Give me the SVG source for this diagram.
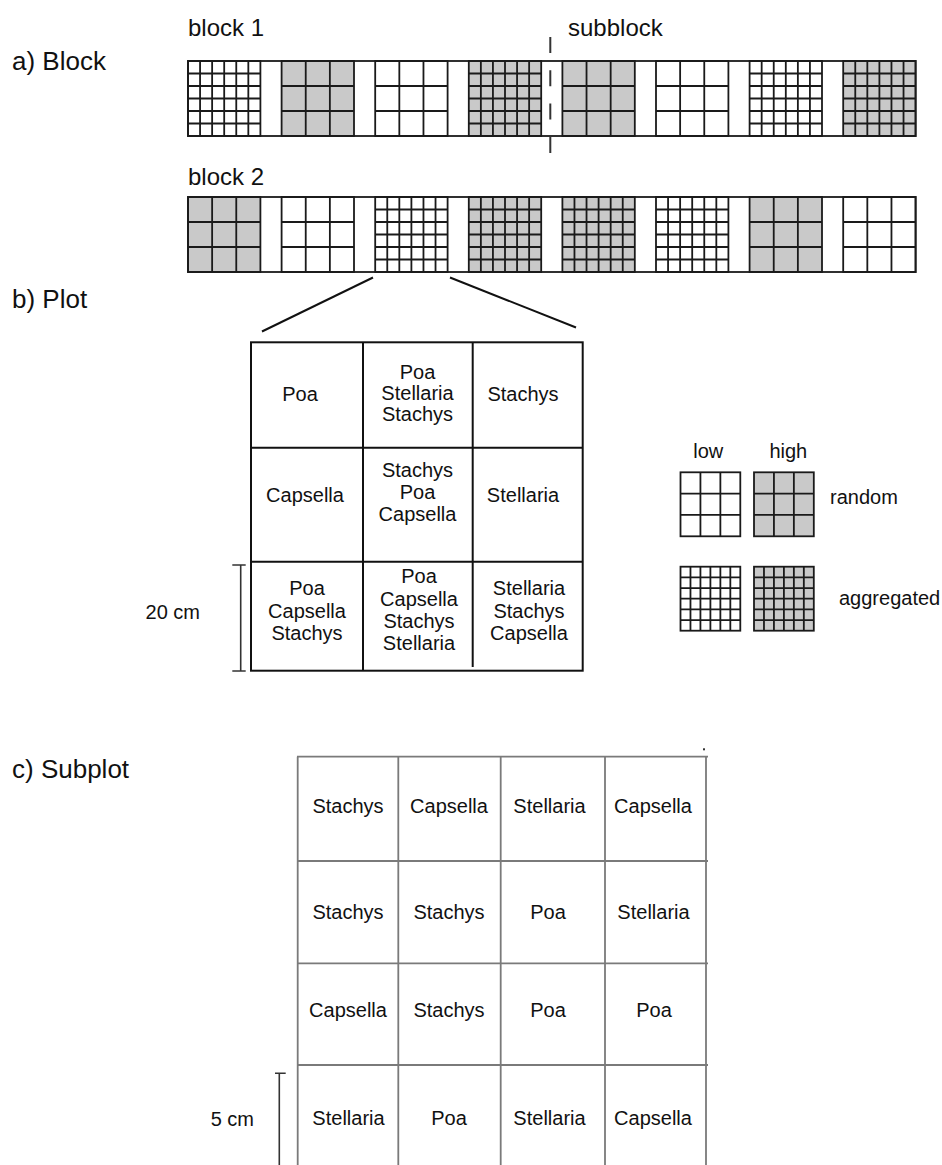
<svg xmlns="http://www.w3.org/2000/svg" xmlns:xlink="http://www.w3.org/1999/xlink" width="942" height="1165" viewBox="0 0 942 1165">
<style>
text{font-family:"Liberation Sans",Arial,sans-serif;fill:#111}
.sec{font-size:26px}
.blk{font-size:24px}
.t{font-size:20px;text-anchor:middle}
.g{stroke:#1a1a1a;stroke-width:1.8;fill:none}
.w{fill:#fff}
.h{fill:#c9c9c9}
.pl{stroke:#111;stroke-width:2;fill:none}
.sp{stroke:#7a7a7a;stroke-width:1.8;fill:none}
.sc{stroke:#333;stroke-width:1.6;fill:none}
</style>
<defs>
<path id="rp" d="M24.13 0V75M48.27 0V75M0 25H72.4M0 50H72.4"/>
<path id="ap" d="M12.07 0V75M24.13 0V75M36.2 0V75M48.27 0V75M60.33 0V75M0 12.5H72.4M0 25H72.4M0 37.5H72.4M0 50H72.4M0 62.5H72.4"/>
<g id="rl"><rect width="72.4" height="75" class="w g"/><use xlink:href="#rp" class="g"/></g>
<g id="rh"><rect width="72.4" height="75" class="h g"/><use xlink:href="#rp" class="g"/></g>
<g id="al"><rect width="72.4" height="75" class="w g"/><use xlink:href="#ap" class="g"/></g>
<g id="ah"><rect width="72.4" height="75" class="h g"/><use xlink:href="#ap" class="g"/></g>
<path id="lrp" d="M19.93 0V64M39.87 0V64M0 21.33H59.8M0 42.67H59.8"/>
<path id="lap" d="M9.97 0V64M19.93 0V64M29.9 0V64M39.87 0V64M49.83 0V64M0 10.67H59.8M0 21.33H59.8M0 32H59.8M0 42.67H59.8M0 53.33H59.8"/>
</defs>

<g id="labels">
<text class="sec" x="12" y="70">a) Block</text>
<text class="sec" x="12" y="308">b) Plot</text>
<text class="sec" x="12" y="778">c) Subplot</text>
</g>

<g id="block1">
<text class="blk" x="188" y="36">block 1</text>
<text class="blk" x="568" y="36">subblock</text>
<use xlink:href="#al" x="188" y="61"/>
<use xlink:href="#rh" x="281.6" y="61"/>
<use xlink:href="#rl" x="375.2" y="61"/>
<use xlink:href="#ah" x="468.8" y="61"/>
<use xlink:href="#rh" x="562.4" y="61"/>
<use xlink:href="#rl" x="656" y="61"/>
<use xlink:href="#al" x="749.6" y="61"/>
<use xlink:href="#ah" x="843.2" y="61"/>
<rect x="188" y="61" width="727.6" height="75" class="g"/>
<line x1="550.3" y1="37" x2="550.3" y2="153" stroke="#333" stroke-width="2" stroke-dasharray="16 17.3"/>
</g>

<g id="block2">
<text class="blk" x="188" y="185">block 2</text>
<use xlink:href="#rh" x="188" y="197"/>
<use xlink:href="#rl" x="281.6" y="197"/>
<use xlink:href="#al" x="375.2" y="197"/>
<use xlink:href="#ah" x="468.8" y="197"/>
<use xlink:href="#ah" x="562.4" y="197"/>
<use xlink:href="#al" x="656" y="197"/>
<use xlink:href="#rh" x="749.6" y="197"/>
<use xlink:href="#rl" x="843.2" y="197"/>
<rect x="188" y="197" width="727.6" height="75" class="g"/>
</g>

<g id="connectors">
<line x1="373" y1="277.5" x2="262" y2="331.5" class="pl"/>
<line x1="450" y1="277.5" x2="576" y2="327.5" class="pl"/>
</g>

<g id="plot">
<rect x="251" y="342.3" width="331.7" height="328.4" class="pl"/>
<line x1="363" y1="342.3" x2="363" y2="670.7" class="pl"/>
<line x1="472.7" y1="342.3" x2="472.7" y2="667" class="pl"/>
<line x1="251" y1="447.7" x2="582.7" y2="447.7" class="pl"/>
<line x1="251" y1="561.7" x2="582.7" y2="561.7" class="pl"/>
<text class="t" x="300" y="401">Poa</text>
<text class="t" x="417.5" y="379">Poa</text>
<text class="t" x="417.5" y="400">Stellaria</text>
<text class="t" x="417.5" y="421">Stachys</text>
<text class="t" x="523" y="401">Stachys</text>
<text class="t" x="305" y="502">Capsella</text>
<text class="t" x="417.5" y="477">Stachys</text>
<text class="t" x="417.5" y="499">Poa</text>
<text class="t" x="417.5" y="521">Capsella</text>
<text class="t" x="523" y="502">Stellaria</text>
<text class="t" x="307" y="595">Poa</text>
<text class="t" x="307" y="618">Capsella</text>
<text class="t" x="307" y="640">Stachys</text>
<text class="t" x="419" y="583">Poa</text>
<text class="t" x="419" y="605.5">Capsella</text>
<text class="t" x="419" y="628">Stachys</text>
<text class="t" x="419" y="650">Stellaria</text>
<text class="t" x="529" y="595">Stellaria</text>
<text class="t" x="529" y="618">Stachys</text>
<text class="t" x="529" y="640">Capsella</text>
</g>

<g id="plot-scale">
<path d="M240.7 565V671M232.3 565H245.7M232.3 671H245.7" class="sc"/>
<text x="200" y="618.5" style="font-size:20px;text-anchor:end">20 cm</text>
</g>

<g id="legend">
<text class="t" x="708.3" y="458">low</text>
<text class="t" x="788.3" y="458">high</text>
<rect x="680.5" y="472.3" width="59.8" height="64" class="w g"/>
<use xlink:href="#lrp" x="680.5" y="472.3" class="g"/>
<rect x="754" y="472.3" width="59.8" height="64" class="h g"/>
<use xlink:href="#lrp" x="754" y="472.3" class="g"/>
<text x="830" y="504" style="font-size:20px">random</text>
<rect x="680.5" y="566.7" width="59.8" height="64" class="w g"/>
<use xlink:href="#lap" x="680.5" y="566.7" class="g"/>
<rect x="754" y="566.7" width="59.8" height="64" class="h g"/>
<use xlink:href="#lap" x="754" y="566.7" class="g"/>
<text x="839" y="605" style="font-size:20px">aggregated</text>
</g>

<g id="subplot">
<path d="M297.7 756.7V1165M398.3 756.7V1165M500.7 756.7V1165M605 756.7V1165M706 756.7V1165M297 756.7H708M297 861H708M297 963.3H708M297 1065H708" class="sp"/>
<rect x="703" y="748.3" width="2" height="2" fill="#333"/>
<text class="t" x="348" y="813">Stachys</text>
<text class="t" x="449" y="813">Capsella</text>
<text class="t" x="549.5" y="813">Stellaria</text>
<text class="t" x="653" y="813">Capsella</text>
<text class="t" x="348" y="919">Stachys</text>
<text class="t" x="449" y="919">Stachys</text>
<text class="t" x="548" y="919">Poa</text>
<text class="t" x="653.5" y="919">Stellaria</text>
<text class="t" x="348" y="1017">Capsella</text>
<text class="t" x="449" y="1017">Stachys</text>
<text class="t" x="548" y="1017">Poa</text>
<text class="t" x="654" y="1017">Poa</text>
<text class="t" x="348.5" y="1125">Stellaria</text>
<text class="t" x="449" y="1125">Poa</text>
<text class="t" x="549.5" y="1125">Stellaria</text>
<text class="t" x="653" y="1125">Capsella</text>
</g>

<g id="subplot-scale">
<path d="M279.3 1073.3V1165M275 1073.3H285.7" class="sc"/>
<text x="254" y="1126" style="font-size:20px;text-anchor:end">5 cm</text>
</g>
</svg>
